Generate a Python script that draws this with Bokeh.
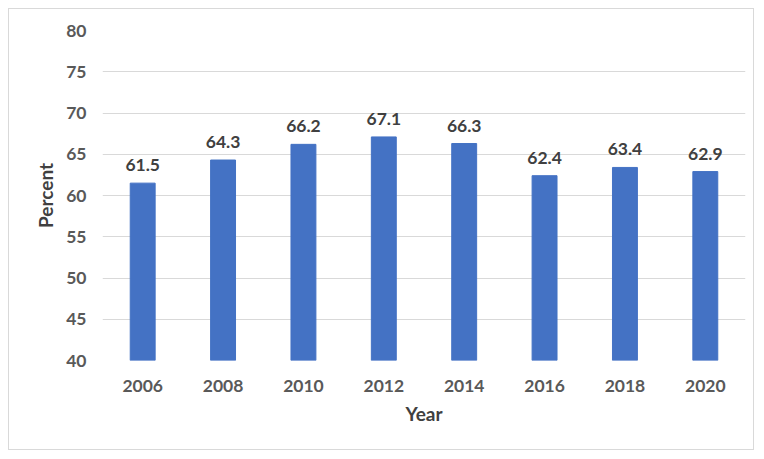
from bokeh.plotting import figure
from bokeh.models import ColumnDataSource, Range1d, FixedTicker
from bokeh.core.properties import value
from bokeh.embed import file_html
from bokeh.resources import INLINE

years = ["2006", "2008", "2010", "2012", "2014", "2016", "2018", "2020"]
percent = [61.5, 64.3, 66.2, 67.1, 66.3, 62.4, 63.4, 62.9]
y_ticks = [40, 45, 50, 55, 60, 65, 70, 75, 80]

labels = [f"{v:.1f}" for v in percent]
src = ColumnDataSource(dict(x=years, top=percent, label=labels))

FONT = "Lato"
GREY = "#595959"

p = figure(x_range=years, y_range=Range1d(40, 80), width=746, height=442,
           output_backend="svg", toolbar_location=None,
           min_border_left=93, min_border_right=10, min_border_top=21, min_border_bottom=91)
p.styles = {"border": "1px solid #d9d9d9", "margin-left": "8px", "margin-top": "8px"}
p.outline_line_color = None

p.vbar(x="x", top="top", bottom=40, width=0.31, color="#4472C4", source=src)
p.text(x="x", y="top", text="label", source=src, text_align="center",
       text_baseline="bottom", y_offset=-12, text_font=value(FONT),
       text_font_size="17.5px", text_font_style="bold", text_color="#404040")

p.yaxis.ticker = FixedTicker(ticks=y_ticks)
for ax in (p.xaxis, p.yaxis):
    ax.axis_line_color = None
    ax.major_tick_line_color = None
    ax.minor_tick_line_color = None
    ax.major_label_text_font = FONT
    ax.major_label_text_font_size = "17.5px"
    ax.major_label_text_font_style = "bold"
    ax.major_label_text_color = GREY
    ax.axis_label_text_font = FONT
    ax.axis_label_text_font_size = "19px"
    ax.axis_label_text_font_style = "bold"
    ax.axis_label_text_color = "#404040"

p.xaxis.axis_label = "Year"
p.yaxis.axis_label = "Percent"
p.xaxis.major_label_standoff = 13
p.yaxis.major_label_standoff = 10
p.xaxis.axis_label_standoff = 7
p.yaxis.axis_label_standoff = 6

p.xgrid.grid_line_color = None
p.ygrid.grid_line_color = "#d9d9d9"
p.ygrid.grid_line_width = 1

open("out.html", "w").write(file_html(p, INLINE))
